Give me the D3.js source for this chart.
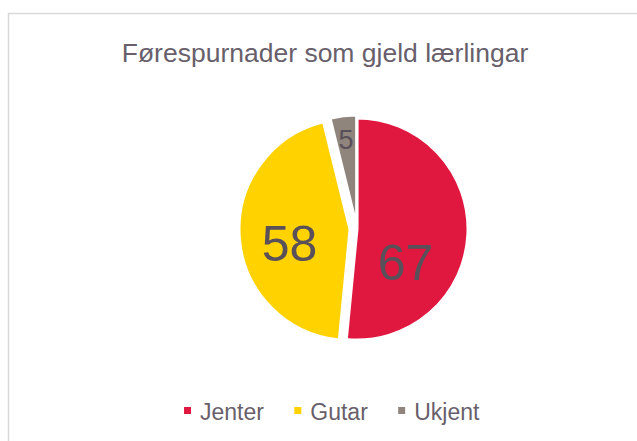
<!DOCTYPE html>
<html>
<head>
<meta charset="utf-8">
<script src="https://cdn.jsdelivr.net/npm/d3@7"></script>
<style>
    body { margin: 0; background: #fff; }
    svg { display: block; font-family: "Liberation Sans", Arial, sans-serif; }
</style>
</head>
<body>
<div id="chart"></div>
<script>
// Pie chart: Førespurnader som gjeld lærlingar

const categories = ['Jenter', 'Gutar', 'Ukjent'];
const values = [67, 58, 5];
const colors = ['#e0173f', '#ffd200', '#8f857d'];

const width = 637;
const height = 441;
const center = { x: 357, y: 229 };
const radius = 111;

// explode offset per slice, label placement (fraction of slice angle, fraction of radius), label size
const explode = [0, 7, 3];
const labelPlace = [
    { frac: 0.67, dist: 0.53, size: 50 },
    { frac: 0.445, dist: 0.56, size: 50 },
    { frac: 0.5, dist: 0.79, size: 27 }
];

const svg = d3.select('#chart')
    .append('svg')
    .attr('width', width)
    .attr('height', height);

// Chart border
svg.append('rect')
    .attr('x', 8.5)
    .attr('y', 13.5)
    .attr('width', 700)
    .attr('height', 500)
    .attr('fill', '#fff')
    .attr('stroke', '#d9d9d9')
    .attr('stroke-width', 1.5);

// Title
svg.append('text')
    .attr('x', 325)
    .attr('y', 62)
    .attr('text-anchor', 'middle')
    .attr('font-size', 26.5)
    .attr('fill', '#685f6b')
    .text('Førespurnader som gjeld lærlingar');

const data = categories.map((c, i) => ({ name: c, value: values[i], color: colors[i], i }));

const pie = d3.pie()
    .value(d => d.value)
    .sort(null);

const arc = d3.arc()
    .innerRadius(0)
    .outerRadius(radius);

const arcs = pie(data);

const g = svg.append('g')
    .attr('transform', `translate(${center.x},${center.y})`);

const slices = g.selectAll('.slice')
    .data(arcs)
    .enter()
    .append('g')
    .attr('class', 'slice')
    .attr('transform', d => {
        const mid = (d.startAngle + d.endAngle) / 2;
        const off = explode[d.data.i];
        return `translate(${Math.sin(mid) * off},${-Math.cos(mid) * off})`;
    });

slices.append('path')
    .attr('d', arc)
    .attr('fill', d => d.data.color)
    .attr('stroke', '#fff')
    .attr('stroke-width', 3)
    .attr('stroke-linejoin', 'round');

// Data labels
slices.append('text')
    .attr('text-anchor', 'middle')
    .attr('dy', '0.36em')
    .attr('font-size', d => labelPlace[d.data.i].size)
    .attr('fill', '#59505a')
    .attr('transform', d => {
        const p = labelPlace[d.data.i];
        const a = d.startAngle + (d.endAngle - d.startAngle) * p.frac;
        const r = radius * p.dist;
        return `translate(${Math.sin(a) * r},${-Math.cos(a) * r})`;
    })
    .text(d => d.value);

// Legend
const legend = svg.append('g')
    .attr('class', 'legend')
    .attr('transform', 'translate(0,420)');

const items = legend.selectAll('.legend-item')
    .data(data)
    .enter()
    .append('g')
    .attr('class', 'legend-item');

items.append('rect')
    .attr('x', 0)
    .attr('y', -13)
    .attr('width', 7)
    .attr('height', 7)
    .attr('fill', d => d.color);

items.append('text')
    .attr('x', 16)
    .attr('y', 0)
    .attr('font-size', 23)
    .attr('fill', '#685f6b')
    .text(d => d.name);

// lay out legend items horizontally, centred
let xPos = 0;
const offsets = [];
items.each(function () {
    offsets.push(xPos);
    xPos += this.getBBox().width + 30;
});
const total = xPos - 30;
const startX = 332 - total / 2;
items.attr('transform', (d, i) => `translate(${startX + offsets[i]},0)`);
</script>
</body>
</html>
